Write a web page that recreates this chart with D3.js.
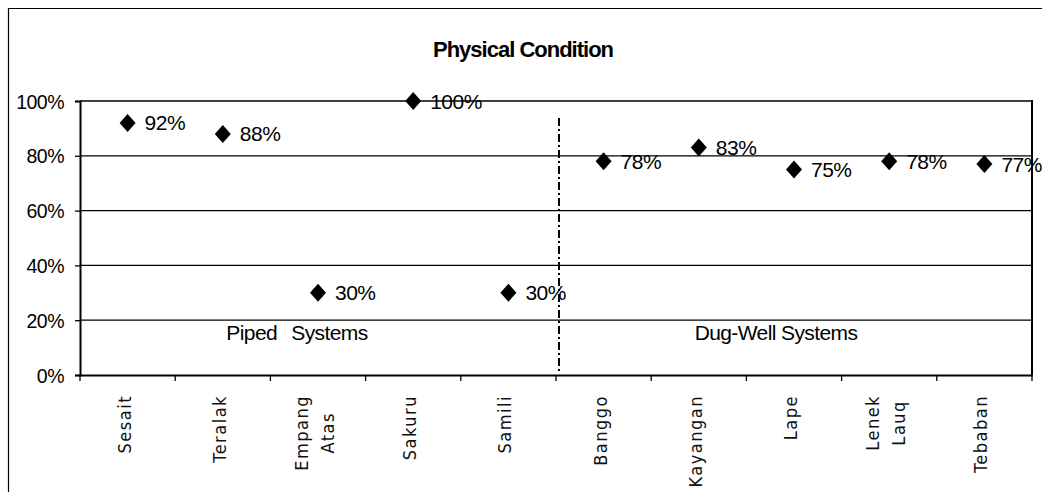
<!DOCTYPE html>
<html>
<head>
<meta charset="utf-8">
<script src="https://cdn.jsdelivr.net/npm/d3@7"></script>
<style>
  body { margin: 0; background: white; }
  svg { display: block; }
</style>
</head>
<body>
<svg id="chart"></svg>
<script>
var W = 1042, H = 492;

// data
var sites = ["Sesait", "Teralak", "Empang Atas", "Sakuru", "Samili",
             "Banggo", "Kayangan", "Lape", "Lenek Lauq", "Tebaban"];
var condition = [0.92, 0.88, 0.30, 1.00, 0.30, 0.78, 0.83, 0.75, 0.78, 0.77];
var yTicks = [0, 0.2, 0.4, 0.6, 0.8, 1.0];
var groupNames = ["Piped Systems", "Dug-Well Systems"];
var groupSites = [["Sesait", "Teralak", "Empang Atas", "Sakuru", "Samili"],
                  ["Banggo", "Kayangan", "Lape", "Lenek Lauq", "Tebaban"]];

var pLeft = 80, pRight = 1032, pTop = 101, pBottom = 375;
var arial = "Arial, 'Liberation Sans', sans-serif";

var svg = d3.select("#chart").attr("width", W).attr("height", H);

// outer frame (runs off right / bottom)
svg.append("path")
  .attr("d", "M8.5," + (H + 2) + "V8.5H" + (W + 2))
  .attr("fill", "none").attr("stroke", "#000").attr("stroke-width", 1.2);

var x = d3.scaleBand().domain(sites).range([pLeft, pRight]);
var y = d3.scaleLinear().domain([0, 1]).range([pBottom, pTop]);
var cx = function(d){ return x(d) + x.bandwidth() / 2; };

// gridlines
svg.append("g").selectAll("line")
  .data(yTicks.filter(function(d){ return d > 0; }))
  .enter().append("line")
  .attr("x1", pLeft).attr("x2", pRight)
  .attr("y1", function(d){ return y(d); })
  .attr("y2", function(d){ return y(d); })
  .attr("stroke", "#000").attr("stroke-width", 1.3);

// plot border right side
svg.append("line")
  .attr("x1", pRight).attr("x2", pRight).attr("y1", pTop - 1).attr("y2", pBottom)
  .attr("stroke", "#000").attr("stroke-width", 2);

// y axis
var yAxis = svg.append("g")
  .attr("transform", "translate(" + pLeft + ",0)")
  .call(d3.axisLeft(y).tickValues(yTicks).tickFormat(d3.format(".0%")).tickSize(5).tickPadding(11));
yAxis.select(".domain").attr("stroke-width", 2);
yAxis.selectAll("line").attr("stroke-width", 1.3);
yAxis.selectAll("text")
  .attr("font-family", arial)
  .attr("font-size", 19.5).attr("fill", "#000").attr("letter-spacing", "-0.5")
  .attr("dy", "0.36em");

// x axis
var xAxis = svg.append("g")
  .attr("transform", "translate(0," + pBottom + ")")
  .call(d3.axisBottom(x).tickSize(0).tickFormat(""));
xAxis.select(".domain").attr("stroke-width", 2);
svg.append("g").selectAll("line")
  .data(d3.range(sites.length + 1))
  .enter().append("line")
  .attr("x1", function(i){ return pLeft + i * x.step(); })
  .attr("x2", function(i){ return pLeft + i * x.step(); })
  .attr("y1", pBottom).attr("y2", pBottom + 6)
  .attr("stroke", "#000").attr("stroke-width", 1.3);

// rotated category labels
var lineGap = 26;
var labs = svg.append("g").selectAll("text")
  .data(sites)
  .enter().append("text")
  .attr("transform", function(d){
    var lines = d.split(" ").length;
    return "translate(" + (cx(d) + 3 - (lines - 1) * lineGap / 2) + "," + (pBottom + 20) + ") rotate(-90)";
  })
  .attr("text-anchor", "end")
  .attr("font-family", "'DejaVu Sans Condensed', 'Liberation Sans Narrow', sans-serif")
  .attr("font-size", 18).attr("letter-spacing", "1.5").attr("fill", "#111");
labs.each(function(d){
  var parts = d.split(" ");
  var t = d3.select(this);
  parts.forEach(function(p, i){
    t.append("tspan").attr("x", 0).attr("dy", i === 0 ? 0 : lineGap).text(p);
  });
  // center multi-line labels on the longest line
  var ts = t.selectAll("tspan").nodes();
  if (ts.length > 1) {
    var wMax = d3.max(ts, function(n){ return n.getComputedTextLength(); });
    ts.forEach(function(n){
      var w = n.getComputedTextLength();
      d3.select(n).attr("x", -(wMax - w) / 2);
    });
  }
});

// group divider
var divX = pLeft + groupSites[0].length * x.step();
svg.append("line")
  .attr("x1", divX + 3).attr("x2", divX + 3)
  .attr("y1", 118).attr("y2", 371)
  .attr("stroke", "#000").attr("stroke-width", 2)
  .attr("stroke-dasharray", "8,3,2,3");

// group labels
groupNames.forEach(function(g, i){
  var s = groupSites[i];
  svg.append("text")
    .attr("x", cx(s[2]) + (i === 0 ? -21 : -18)).attr("y", y(0.2) + 20)
    .attr("text-anchor", "middle")
    .attr("font-family", arial)
    .attr("font-size", 21).attr("letter-spacing", "-0.6").attr("word-spacing", i === 0 ? "9" : "0")
    .attr("fill", "#000")
    .text(g);
});

// markers
svg.append("g").selectAll("path")
  .data(sites)
  .enter().append("path")
  .attr("d", "M0,-9L8,0L0,9L-8,0Z")
  .attr("transform", function(d, i){
    return "translate(" + cx(d) + "," + y(condition[i]) + ")";
  })
  .attr("fill", "#000");

// data labels
svg.append("g").selectAll("text")
  .data(sites)
  .enter().append("text")
  .attr("x", function(d){ return cx(d) + 17; })
  .attr("y", function(d, i){ return y(condition[i]) + 7.5; })
  .attr("font-family", arial)
  .attr("font-size", 21).attr("letter-spacing", "-0.5").attr("fill", "#000")
  .text(function(d, i){ return d3.format(".0%")(condition[i]); });

// title
svg.append("text")
  .attr("x", 523).attr("y", 57)
  .attr("text-anchor", "middle")
  .attr("font-family", arial)
  .attr("font-weight", "bold").attr("font-size", 22).attr("letter-spacing", "-1")
  .attr("fill", "#000")
  .text("Physical Condition");
</script>
</body>
</html>
